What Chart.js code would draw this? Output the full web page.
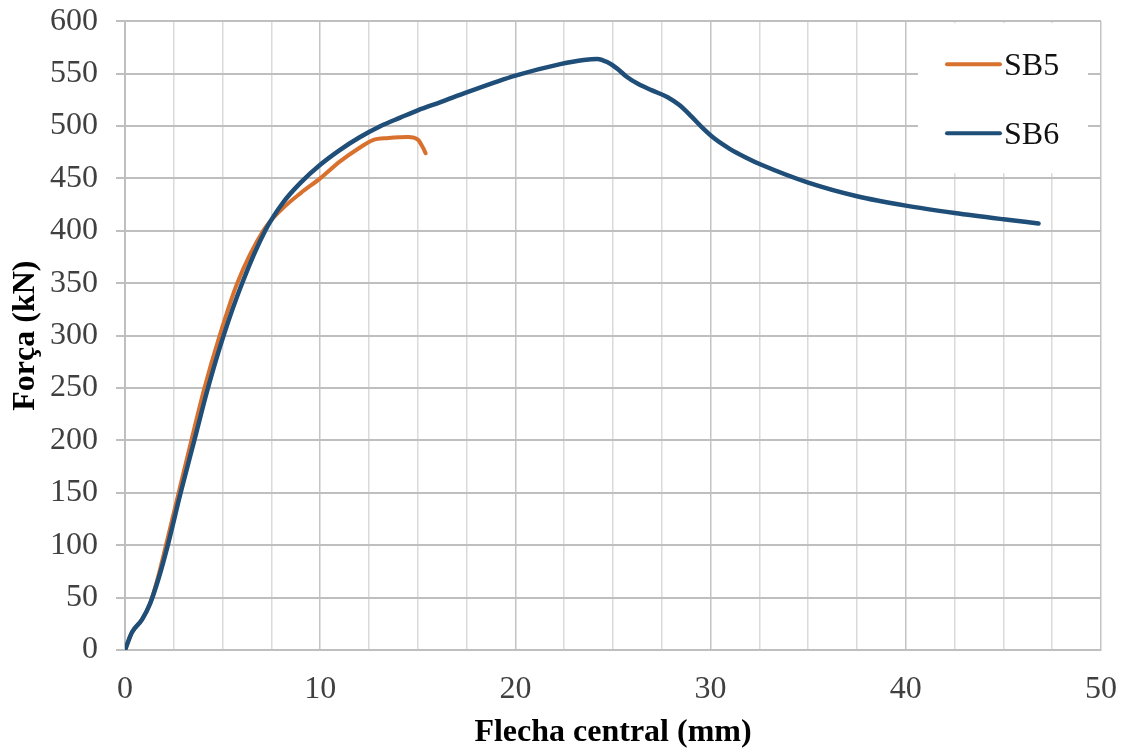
<!DOCTYPE html>
<html>
<head>
<meta charset="utf-8">
<script src="https://cdn.jsdelivr.net/npm/chart.js@4"></script>
<style>
  html, body { margin: 0; padding: 0; background: #fff; }
  #wrap { position: relative; width: 1130px; height: 754px; overflow: hidden; }
  #chart { position: absolute; left: 0; top: -16px; }
</style>
</head>
<body>
<div id="wrap"><canvas id="chart" width="1137" height="770"></canvas></div>
<script>
// Ensaio de flexão: flecha central (mm) x força (kN)
const sb5Flecha = [0, 0.36, 0.87, 1.28, 1.7, 2.1, 2.75, 3.4, 4.07, 4.85, 5.75, 7.08, 8.0, 9.0, 10, 11, 12, 12.7, 13.5, 14.5, 15.0, 15.3, 15.4];
const sb5Forca  = [0, 17, 29, 44, 70, 100, 150, 200, 250, 300, 350, 400, 420, 436, 450, 466, 479, 486.6, 488.5, 489.5, 487, 478, 474];

const sb6Flecha = [0, 0.36, 0.87, 1.28, 1.7, 2.15, 2.85, 3.55, 4.25, 5.05, 6.0, 7.18, 8.1, 9.0, 10, 11, 12, 13.1, 14.1, 15, 16.2, 17.5, 20, 22.3, 23.5, 24.2, 24.7, 25.2, 25.7, 26.3, 27.0, 27.8, 28.4, 29.0, 29.6, 30.2, 31.0, 31.8, 32.6, 35, 37.5, 40, 42.5, 45, 46.8];
const sb6Forca  = [0, 17, 29, 44, 67, 97, 150, 200, 250, 300, 350, 400, 427, 446, 463, 477, 489, 500, 508, 515, 523, 532, 548, 559, 563, 564, 561, 555, 547, 540, 534, 527.5, 520, 509.5, 498, 488, 478, 470, 463, 446, 433, 424, 417, 411, 407];

const seriesNames = ['SB5', 'SB6'];
const seriesColors = ['#D8702E', '#1F4E79'];

const FONT = "'Liberation Serif', 'Times New Roman', serif";

function toPoints(xs, ys) {
    return xs.map((x, i) => ({ x: x, y: ys[i] }));
}

// Legenda desenhada dentro da área do gráfico, com fundo branco
const insideLegend = {
    id: 'insideLegend',
    afterDatasetsDraw(chart) {
        const ctx = chart.ctx;
        const area = chart.chartArea;
        const boxLeft = area.right - 183;
        const boxTop = area.top + 2;
        ctx.save();
        ctx.fillStyle = '#ffffff';
        ctx.fillRect(boxLeft, boxTop, 170, 150);
        ctx.font = '32px ' + FONT;
        ctx.textBaseline = 'alphabetic';
        ctx.textAlign = 'left';
        chart.data.datasets.forEach((ds, i) => {
            const y = area.top + 43 + i * 69;
            ctx.strokeStyle = ds.borderColor;
            ctx.lineWidth = 4;
            ctx.lineCap = 'round';
            ctx.beginPath();
            ctx.moveTo(boxLeft + 29, y);
            ctx.lineTo(boxLeft + 82, y);
            ctx.stroke();
            ctx.fillStyle = '#111111';
            ctx.fillText(ds.label, boxLeft + 86, y + 11);
        });
        ctx.restore();
    }
};

const ctx = document.getElementById('chart').getContext('2d');
new Chart(ctx, {
    type: 'scatter',
    data: {
        datasets: [
            {
                label: seriesNames[0],
                data: toPoints(sb5Flecha, sb5Forca),
                showLine: true,
                borderColor: seriesColors[0],
                backgroundColor: seriesColors[0],
                borderWidth: 4,
                borderCapStyle: 'round',
                pointRadius: 0,
                cubicInterpolationMode: 'monotone',
                order: 1
            },
            {
                label: seriesNames[1],
                data: toPoints(sb6Flecha, sb6Forca),
                showLine: true,
                borderColor: seriesColors[1],
                backgroundColor: seriesColors[1],
                borderWidth: 4.5,
                borderCapStyle: 'round',
                pointRadius: 0,
                cubicInterpolationMode: 'monotone',
                order: 0
            }
        ]
    },
    options: {
        responsive: false,
        animation: false,
        layout: { padding: { top: 5, right: 22, left: 0, bottom: 0 } },
        plugins: {
            legend: { display: false },
            tooltip: { enabled: false }
        },
        scales: {
            x: {
                type: 'linear',
                min: 0,
                max: 50,
                afterFit: scale => { scale.height = 104; },
                ticks: {
                    stepSize: 2.5,
                    autoSkip: false,
                    maxRotation: 0,
                    padding: 20,
                    color: '#404040',
                    font: { family: FONT, size: 32 },
                    callback: v => (v % 10 === 0 ? v : '')
                },
                grid: {
                    color: c => (c.tick && c.tick.value % 10 === 0 ? '#c4c4c4' : '#dadada'),
                    lineWidth: 1.5,
                    drawTicks: false
                },
                border: { display: true, color: '#bfbfbf', width: 2 },
                title: {
                    display: true,
                    text: 'Flecha central (mm)',
                    color: '#000000',
                    font: { family: FONT, size: 32, weight: 'bold' },
                    padding: { top: 2, bottom: 2 }
                }
            },
            y: {
                min: 0,
                max: 600,
                afterFit: scale => { scale.width = 125; },
                ticks: {
                    stepSize: 50,
                    padding: 18,
                    color: '#404040',
                    font: { family: FONT, size: 32 }
                },
                grid: {
                    color: '#bfbfbf',
                    lineWidth: 2,
                    tickLength: 9
                },
                border: { display: true, color: '#bfbfbf', width: 2 },
                title: {
                    display: true,
                    text: 'Força (kN)',
                    color: '#000000',
                    font: { family: FONT, size: 32, weight: 'bold' },
                    padding: { top: 7, bottom: 0 }
                }
            }
        }
    },
    plugins: [insideLegend]
});
</script>
</body>
</html>
